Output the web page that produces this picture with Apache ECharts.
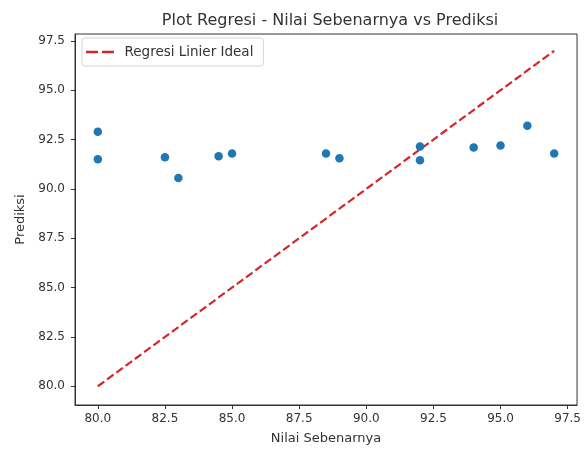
<!DOCTYPE html>
<html>
<head>
<meta charset="utf-8">
<script src="https://cdn.jsdelivr.net/npm/echarts@6/dist/echarts.min.js"></script>
<style>html,body{margin:0;padding:0;background:#fff}#c{width:584px;height:450px}</style>
</head>
<body>
<div id="c"></div>
<script>
const actual = [80, 80, 82.5, 83, 84.5, 85, 88.5, 89, 92, 92, 94, 95, 96, 97];
const predicted = [92.9, 91.5, 91.6, 90.55, 91.65, 91.8, 91.8, 91.55, 92.15, 91.45, 92.1, 92.2, 93.2, 91.8];
const idealLine = [80, 97];
const xTicks = [80, 82.5, 85, 87.5, 90, 92.5, 95, 97.5];
const yTicks = [80, 82.5, 85, 87.5, 90, 92.5, 95, 97.5];
const titleText = 'Plot Regresi - Nilai Sebenarnya vs Prediksi';
const xName = 'Nilai Sebenarnya';
const yName = 'Prediksi';
const lineName = 'Regresi Linier Ideal';

const font = 'DejaVu Sans';
const chart = echarts.init(document.getElementById('c'));
const axisCommon = {
  type: 'value', nameLocation: 'middle',
  nameTextStyle: { fontFamily: font, fontSize: 13, color: '#333' },
  axisLine: { show: true, onZero: false, lineStyle: { color: '#333', width: 1 } },
  splitLine: { show: false }
};
chart.setOption({
  animation: false,
  title: { text: titleText, left: 325, top: 8, textAlign: 'center',
    textStyle: { fontFamily: font, fontSize: 16, fontWeight: 'normal', color: '#333' } },
  grid: { left: 75, right: 5, top: 34, bottom: 41, show: true, borderColor: '#333', borderWidth: 1, backgroundColor: 'transparent' },
  legend: {
    data: [lineName], left: 82, top: 38, orient: 'vertical',
    icon: 'path://M0,0h12v2.4h-12z M16,0h12v2.4h-12z',
    itemWidth: 29, itemHeight: 2.4, itemGap: 5,
    padding: [7, 10, 7, 4], borderColor: '#d5d5d5', borderWidth: 1, borderRadius: 3,
    backgroundColor: 'rgba(255,255,255,0.85)',
    textStyle: { fontFamily: font, fontSize: 13.5, color: '#333', padding: [0, 0, 0, 5] }
  },
  xAxis: Object.assign({}, axisCommon, {
    min: 79.15, max: 97.85,
    name: xName, nameGap: 27,
    axisTick: { show: true, customValues: xTicks, length: 4, lineStyle: { color: '#333' } },
    axisLabel: { customValues: xTicks, formatter: v => v.toFixed(1), fontFamily: font, fontSize: 12, color: '#333', margin: 8 }
  }),
  yAxis: Object.assign({}, axisCommon, {
    min: 79.05, max: 97.85,
    name: yName, nameGap: 48,
    axisTick: { show: true, customValues: yTicks, length: 4, lineStyle: { color: '#333' } },
    axisLabel: { customValues: yTicks, formatter: v => v.toFixed(1), fontFamily: font, fontSize: 12, color: '#333', margin: 10 }
  }),
  series: [
    { type: 'scatter', name: 'data', symbolSize: 8.5,
      itemStyle: { color: '#1f77b4', opacity: 1 },
      data: actual.map((x, i) => [x, predicted[i]]), z: 3 },
    { type: 'line', name: lineName, symbol: 'none', showSymbol: false,
      lineStyle: { color: '#d62728', width: 2.2, type: [8, 3.5] },
      itemStyle: { color: '#d62728' },
      data: [[idealLine[0], idealLine[0]], [idealLine[1], idealLine[1]]], z: 2 }
  ]
});
</script>
</body>
</html>
